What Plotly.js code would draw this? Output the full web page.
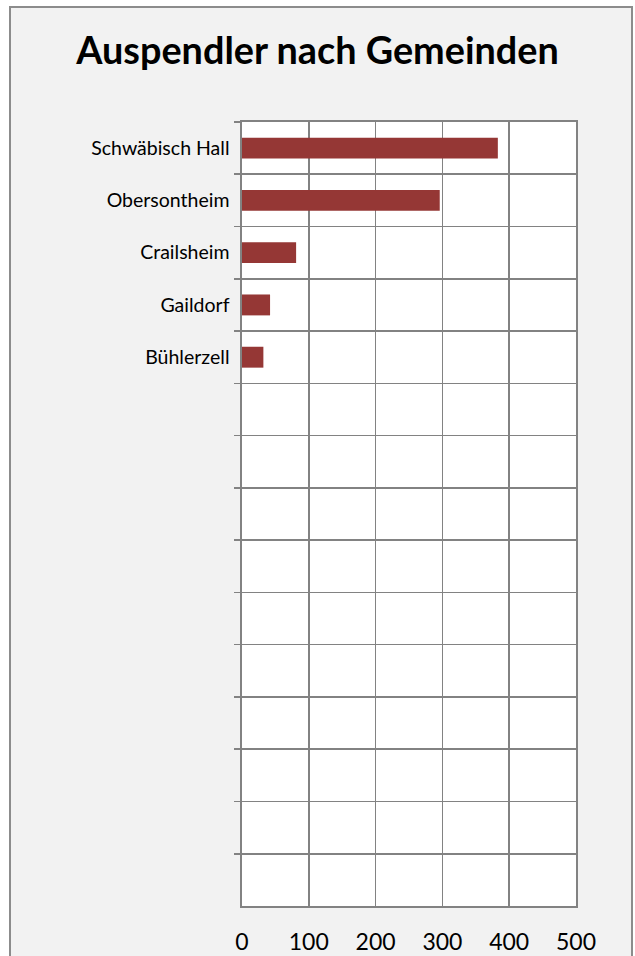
<!DOCTYPE html>
<html>
<head>
<meta charset="utf-8">
<script src="https://cdn.plot.ly/plotly-3.0.1.min.js"></script>
<style>
  html, body { margin: 0; padding: 0; background: #ffffff; }
  #frame {
    position: absolute; left: 9px; top: 6px; width: 624px; height: 970px;
    box-sizing: border-box; border: 2px solid #8c8c8c; background: #f2f2f2;
  }
  #chart { position: absolute; left: 0; top: 0; width: 635px; height: 956px; }
</style>
</head>
<body>
<div id="frame"></div>
<div id="chart"></div>
<script>
// Data
const chartTitle = "Auspendler nach Gemeinden";
const places = ["Schwäbisch Hall", "Obersontheim", "Crailsheim", "Gaildorf", "Bühlerzell"];
const commuters = [383, 296, 81, 42, 32];
const emptySlotCount = 10;
const xTicks = [0, 100, 200, 300, 400, 500];

const emptySlots = [];
for (let i = 0; i < emptySlotCount; i++) emptySlots.push("\u200b".repeat(i + 1));
const allCategories = places.concat(emptySlots);

const gridColor = "#828282";
const font = "Lato, 'Open Sans', sans-serif";

const trace = {
  type: "bar",
  orientation: "h",
  x: commuters,
  y: places,
  marker: { color: "#953735", line: { width: 0 } },
  hoverinfo: "x+y"
};

const layout = {
  width: 635, height: 956,
  margin: { l: 242, r: 59, t: 122, b: 50 },
  paper_bgcolor: "rgba(0,0,0,0)",
  plot_bgcolor: "#ffffff",
  showlegend: false,
  bargap: 0.6,
  title: {
    text: "<b>" + chartTitle + "</b>",
    font: { family: font, size: 37.8, color: "#000000" },
    x: 0.5, xanchor: "center",
    yref: "container", y: 1 - 51 / 956, yanchor: "middle"
  },
  xaxis: {
    range: [0, 500],
    tickmode: "array", tickvals: xTicks, ticktext: xTicks.map(String),
    showgrid: true, gridcolor: gridColor, gridwidth: 1.6,
    showline: true, linecolor: gridColor, linewidth: 1.6, mirror: true,
    ticks: "", zeroline: false,
    ticklabelstandoff: 15,
    tickfont: { family: font, size: 23, color: "#000000" },
    fixedrange: true
  },
  yaxis: {
    type: "category",
    categoryorder: "array", categoryarray: allCategories,
    range: [allCategories.length - 0.5, -0.5],
    tickson: "boundaries",
    ticks: "outside", ticklen: 6, tickcolor: gridColor, tickwidth: 1.6,
    showgrid: true, gridcolor: gridColor, gridwidth: 1.6,
    showline: true, linecolor: gridColor, linewidth: 1.6, mirror: true,
    zeroline: false,
    ticklabelstandoff: 7,
    tickfont: { family: font, size: 19.5, color: "#000000" },
    fixedrange: true
  }
};

Plotly.newPlot("chart", [trace], layout, { displayModeBar: false, staticPlot: true });
</script>
</body>
</html>
